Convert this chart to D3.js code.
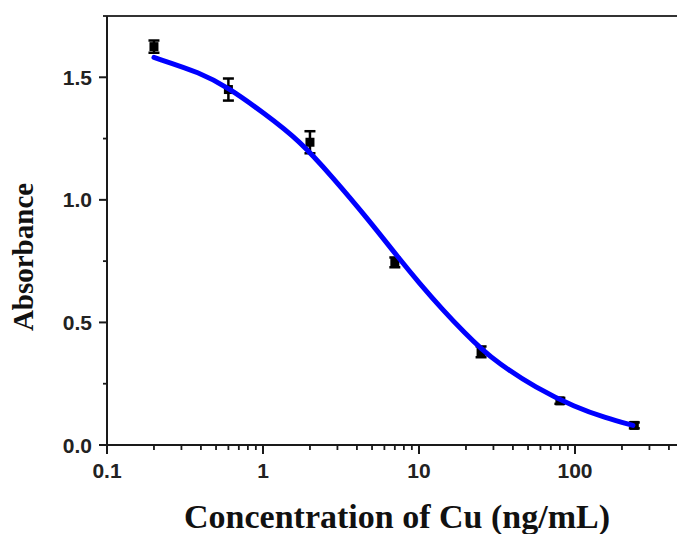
<!DOCTYPE html>
<html>
<head>
<meta charset="utf-8">
<script src="https://cdn.jsdelivr.net/npm/d3@7"></script>
<style>
  html, body { margin: 0; padding: 0; background: #fff; }
  svg { display: block; }
</style>
</head>
<body>
<svg id="chart" width="677" height="534"></svg>
<script>
// ---- data ----
const concentrations = [0.2, 0.6, 2, 7, 25, 80, 240];
const absorbance     = [1.625, 1.450, 1.235, 0.745, 0.380, 0.180, 0.080];
const errors         = [0.025, 0.045, 0.045, 0.020, 0.022, 0.012, 0.012];

// fitted curve
const fitX = [0.2, 0.4, 0.6, 1.0, 1.73, 2.81, 4.64, 7.55, 10, 14.1, 20, 25.1, 31.6, 56.2, 100, 158, 235];
const fitY = [1.581, 1.518, 1.457, 1.357, 1.240, 1.090, 0.927, 0.756, 0.662, 0.553, 0.452, 0.392, 0.338, 0.232, 0.155, 0.110, 0.080];

const xMajorTicks = [0.1, 1, 10, 100];
const xTickLabels = ["0.1", "1", "10", "100"];
const yMajorTicks = [0.0, 0.5, 1.0, 1.5];
const yTickLabels = ["0.0", "0.5", "1.0", "1.5"];
const yMinorTicks = [0.25, 0.75, 1.25];

(function () {
// ---- layout ----
const svg = d3.select("#chart");
const mLeft = 107, mTop = 16, mBottom = 445;
const x = d3.scaleLog().domain([0.1, 500]).range([mLeft, mLeft + 156 * Math.log10(5000)]);
const y = d3.scaleLinear().domain([0, 1.75]).range([mBottom, mTop]);

const axisColor = "#1a1a1a";
const tickFont = "'Liberation Sans', Arial, sans-serif";
const titleFont = "'Liberation Serif', 'Times New Roman', serif";

// minor x ticks
const xMinor = [];
[0.1, 1, 10, 100].forEach(d => { for (let k = 2; k <= 9; k++) { const v = d * k; if (v <= 500) xMinor.push(v); } });

// top border
svg.append("line")
  .attr("x1", x(0.1) - 4).attr("x2", x(500))
  .attr("y1", mTop).attr("y2", mTop)
  .attr("stroke", "#333").attr("stroke-width", 2);

// x axis
const xAxis = svg.append("g").attr("transform", `translate(0,${mBottom})`);
xAxis.append("line").attr("x1", x(0.1) - 8).attr("x2", x(500)).attr("y1", 0).attr("y2", 0)
  .attr("stroke", axisColor).attr("stroke-width", 2);
xAxis.selectAll(".xmaj").data(xMajorTicks).join("line")
  .attr("x1", d => x(d)).attr("x2", d => x(d)).attr("y1", 0).attr("y2", 9)
  .attr("stroke", axisColor).attr("stroke-width", 2);
xAxis.selectAll(".xmin").data(xMinor).join("line")
  .attr("x1", d => x(d)).attr("x2", d => x(d)).attr("y1", 0).attr("y2", 5)
  .attr("stroke", axisColor).attr("stroke-width", 1.8);
xAxis.selectAll(".xlab").data(xMajorTicks).join("text")
  .attr("x", d => x(d)).attr("y", 33)
  .attr("text-anchor", "middle")
  .attr("font-family", tickFont).attr("font-weight", "bold").attr("font-size", 21)
  .attr("fill", "#222")
  .text((d, i) => xTickLabels[i]);

// y axis
const yAxis = svg.append("g").attr("transform", `translate(${mLeft},0)`);
yAxis.append("line").attr("x1", 0).attr("x2", 0).attr("y1", mTop).attr("y2", mBottom)
  .attr("stroke", axisColor).attr("stroke-width", 2);
yAxis.selectAll(".ymaj").data(yMajorTicks).join("line")
  .attr("x1", -8).attr("x2", 0).attr("y1", d => y(d)).attr("y2", d => y(d))
  .attr("stroke", axisColor).attr("stroke-width", 2);
yAxis.selectAll(".ymin").data(yMinorTicks).join("line")
  .attr("x1", -4).attr("x2", 0).attr("y1", d => y(d)).attr("y2", d => y(d))
  .attr("stroke", axisColor).attr("stroke-width", 1.8);
yAxis.selectAll(".ylab").data(yMajorTicks).join("text")
  .attr("x", -15).attr("y", d => y(d) + 7.5)
  .attr("text-anchor", "end")
  .attr("font-family", tickFont).attr("font-weight", "bold").attr("font-size", 21)
  .attr("fill", "#222")
  .text((d, i) => yTickLabels[i]);

// titles
svg.append("text")
  .attr("x", 397).attr("y", 528)
  .attr("text-anchor", "middle")
  .attr("font-family", titleFont).attr("font-weight", "bold").attr("font-size", 34)
  .attr("fill", "#111")
  .text("Concentration of Cu (ng/mL)");
svg.append("text")
  .attr("transform", "translate(33,257) rotate(-90)")
  .attr("text-anchor", "middle")
  .attr("font-family", titleFont).attr("font-weight", "bold").attr("font-size", 29)
  .attr("fill", "#111")
  .text("Absorbance");

// data points with error bars
const pts = concentrations.map((c, i) => ({ c, a: absorbance[i], e: errors[i] }));
const g = svg.append("g");
g.selectAll(".eb").data(pts).join("line")
  .attr("x1", d => x(d.c)).attr("x2", d => x(d.c))
  .attr("y1", d => y(d.a + d.e)).attr("y2", d => y(d.a - d.e))
  .attr("stroke", "#000").attr("stroke-width", 2.5);
g.selectAll(".capT").data(pts).join("line")
  .attr("x1", d => x(d.c) - 5.5).attr("x2", d => x(d.c) + 5.5)
  .attr("y1", d => y(d.a + d.e)).attr("y2", d => y(d.a + d.e))
  .attr("stroke", "#000").attr("stroke-width", 2.5);
g.selectAll(".capB").data(pts).join("line")
  .attr("x1", d => x(d.c) - 5.5).attr("x2", d => x(d.c) + 5.5)
  .attr("y1", d => y(d.a - d.e)).attr("y2", d => y(d.a - d.e))
  .attr("stroke", "#000").attr("stroke-width", 2.5);
g.selectAll(".mk").data(pts).join("rect")
  .attr("x", d => x(d.c) - 4.5).attr("y", d => y(d.a) - 4.5)
  .attr("width", 9).attr("height", 9)
  .attr("fill", "#000");

// fitted curve
const fit = fitX.map((v, i) => [v, fitY[i]]);
svg.append("path")
  .datum(fit)
  .attr("fill", "none")
  .attr("stroke", "#0000ff")
  .attr("stroke-width", 5)
  .attr("stroke-linecap", "round")
  .attr("d", d3.line().x(d => x(d[0])).y(d => y(d[1])).curve(d3.curveBasis));
})();
</script>
</body>
</html>
